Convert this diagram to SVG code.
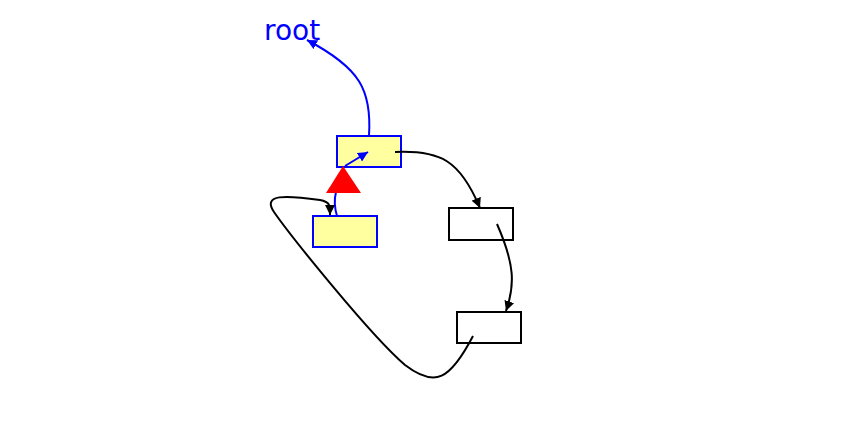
<svg xmlns="http://www.w3.org/2000/svg" width="844" height="431" viewBox="0 0 844 431">
<defs>
<marker id="ab" viewBox="0 0 10 10" refX="10" refY="5" markerWidth="5" markerHeight="5" orient="auto"><path d="M0,0L10,5L0,10z" fill="blue"/></marker>
<marker id="ak" viewBox="0 0 10 10" refX="10" refY="5" markerWidth="5" markerHeight="5" orient="auto"><path d="M0,0L10,5L0,10z" fill="black"/></marker>
</defs>
<style>
.y{fill:#ffffa0;stroke:blue;stroke-width:2}
.w{fill:#fff;stroke:black;stroke-width:2}
.b{fill:none;stroke:blue;stroke-width:2}
.k{fill:none;stroke:black;stroke-width:2}
</style>
<rect width="844" height="431" fill="#fff"/>
<text x="264" y="40" font-family="DejaVu Sans, sans-serif" font-size="28" fill="blue">root</text>
<g id="n1"><rect class="y" x="337" y="136" width="64" height="31"/></g>
<g id="n2"><rect class="y" x="313" y="216" width="64" height="31"/></g>
<g id="n3"><rect class="w" x="449" y="208" width="64" height="32"/></g>
<g id="n4"><rect class="w" x="457" y="312" width="64" height="31"/></g>
<g id="connectors">
<path class="b" d="M369,136 C372,90 360,68 307,40" marker-end="url(#ab)"/>
<path class="b" d="M345,166 L368,152" marker-end="url(#ab)"/>
<path class="b" d="M337,216 C334,206 334,200 336,192"/>
<path class="k" d="M395,152 C440,150 460,160 480,208" marker-end="url(#ak)"/>
<path class="k" d="M497,224 C515,265 515,285 506,311" marker-end="url(#ak)"/>
<path class="k" d="M473,336 C450,380 435,388 405,365 C370,335 290,235 274,212 C262,194 285,195 320,200 C330,202 330,205 330,215" marker-end="url(#ak)"/>
</g>
<polygon points="343,166 326,193 361,193" fill="red"/>
</svg>
